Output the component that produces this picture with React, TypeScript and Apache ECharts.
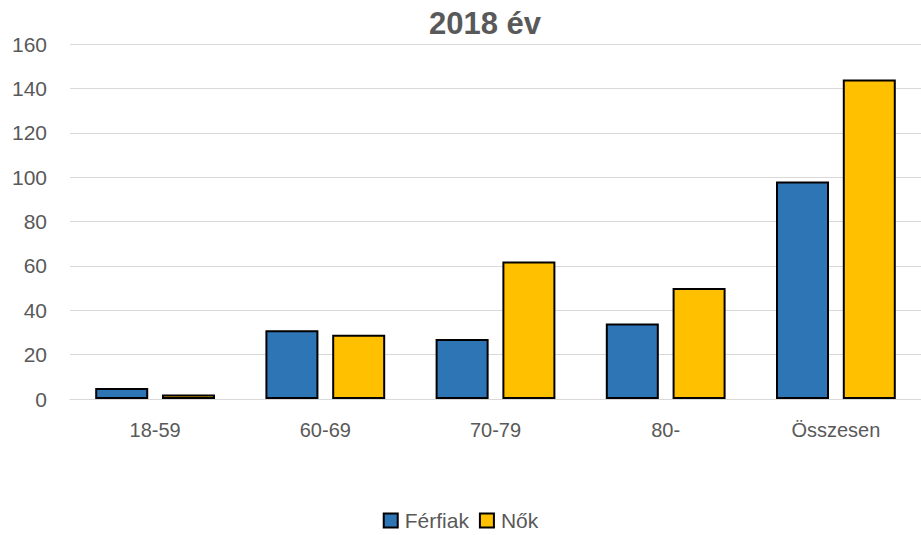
import React, { useEffect, useRef } from "react";
import * as echarts from "echarts";

const categories = ["18-59", "60-69", "70-79", "80-", "Összesen"];
const ferfiak = [5, 31, 27, 34, 98];
const nok = [2, 29, 62, 50, 144];
const seriesNames = ["Férfiak", "Nők"];
const titleText = "2018 év";

const FONT = "'Liberation Sans', Arial, sans-serif";

export default function App() {
  const ref = useRef<HTMLDivElement>(null);
  useEffect(() => {
    if (!ref.current) return;
    const chart = echarts.init(ref.current, null, { renderer: "svg" });
    chart.setOption({
      animation: false,
      backgroundColor: "#ffffff",
      title: {
        text: titleText,
        left: 480,
        textAlign: "center",
        top: 3,
        textStyle: { fontFamily: FONT, fontSize: 31, fontWeight: "bold", color: "#595959" },
      },
      legend: {
        data: seriesNames,
        top: 505,
        left: "center",
        itemWidth: 14,
        itemHeight: 14,
        itemGap: 10,
        textStyle: { fontFamily: FONT, fontSize: 21, color: "#595959", padding: [0, 0, 0, 2] },
        icon: "rect",
      },
      grid: { left: 70, top: 44, width: 857, height: 355 },
      xAxis: {
        type: "category",
        data: categories,
        axisLine: { show: true, lineStyle: { color: "#d9d9d9", width: 1 } },
        axisTick: { show: false },
        axisLabel: { margin: 21, fontFamily: FONT, fontSize: 20, color: "#595959" },
      },
      yAxis: {
        type: "value",
        min: 0,
        max: 160,
        interval: 20,
        axisLine: { show: false },
        axisTick: { show: false },
        splitLine: { lineStyle: { color: "#d9d9d9", width: 1 } },
        axisLabel: { margin: 23, fontFamily: FONT, fontSize: 21, color: "#595959" },
      },
      series: [
        {
          name: seriesNames[0],
          type: "bar",
          data: ferfiak,
          barWidth: 53,
          barGap: "26%",
          itemStyle: { color: "#2E75B6", borderColor: "#000000", borderWidth: 2 },
        },
        {
          name: seriesNames[1],
          type: "bar",
          data: nok,
          barWidth: 53,
          barGap: "26%",
          itemStyle: { color: "#FFC000", borderColor: "#000000", borderWidth: 2 },
        },
      ],
    });
    return () => chart.dispose();
  }, []);
  return <div ref={ref} style={{ width: 921, height: 535, position: "absolute", left: 0, top: 0 }} />;
}
